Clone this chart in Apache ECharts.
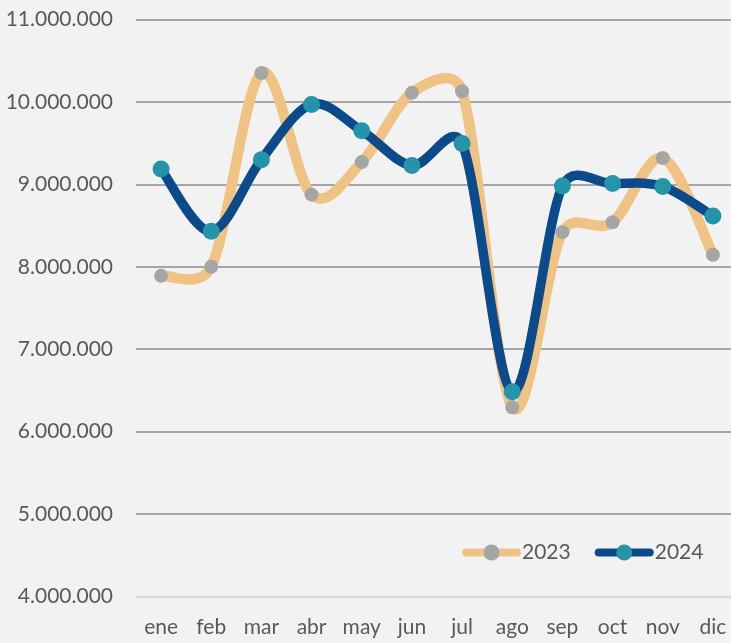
<!DOCTYPE html>
<html>
<head>
<meta charset="utf-8">
<script src="https://cdn.jsdelivr.net/npm/echarts@6/dist/echarts.min.js"></script>
<style>
  html, body { margin: 0; padding: 0; background: #F2F2F2; overflow: hidden; }
  #chart { width: 738px; height: 643px; }
</style>
</head>
<body>
<div id="chart"></div>
<script>
// Monthly totals for two years
const months = ['ene', 'feb', 'mar', 'abr', 'may', 'jun', 'jul', 'ago', 'sep', 'oct', 'nov', 'dic'];
const values2023 = [7890000, 8000000, 10350000, 8875000, 9270000, 10110000, 10130000, 6295000, 8420000, 8540000, 9320000, 8145000];
const values2024 = [9185000, 8430000, 9300000, 9970000, 9650000, 9230000, 9495000, 6485000, 8980000, 9010000, 8975000, 8615000];
const seriesNames = ['2023', '2024'];

const textColor = '#595959';
const fontFamily = 'Lato, "Open Sans", sans-serif';

const colors2023 = { line: '#EEC385', marker: '#A5A5A5' };
const colors2024 = { line: '#0D4A8A', marker: '#2594A8' };

// Thousands separated with dots
function fmt(v) {
  return String(Math.round(v)).replace(/\B(?=(\d{3})+(?!\d))/g, '.');
}

function dist(a, b) {
  return Math.hypot(b[0] - a[0], b[1] - a[1]);
}

// Smoothed segment i -> i+1: cubic Bezier whose handles follow the
// neighbouring points (1/6 tension), limited to half the segment length.
function smoothSegment(values, lineColor, lineWidth) {
  return function (params, api) {
    const i = params.dataIndex;
    const n = values.length;
    if (i >= n - 1) return null;
    const clampIdx = k => Math.min(Math.max(k, 0), n - 1);
    const pt = k => api.coord([clampIdx(k), values[clampIdx(k)]]);
    const p0 = pt(i - 1), p1 = pt(i), p2 = pt(i + 1), p3 = pt(i + 2);
    const d12 = dist(p1, p2);
    const d02 = dist(p0, p2);
    const d13 = dist(p1, p3);
    let f1 = 1 / 6, f2 = 1 / 6;
    if (d02 / 6 >= d12 / 2 && d02 > 0) f1 = d12 / 2 / d02;
    if (d13 / 6 >= d12 / 2 && d13 > 0) f2 = d12 / 2 / d13;
    return {
      type: 'bezierCurve',
      shape: {
        x1: p1[0], y1: p1[1],
        x2: p2[0], y2: p2[1],
        cpx1: p1[0] + f1 * (p2[0] - p0[0]),
        cpy1: p1[1] + f1 * (p2[1] - p0[1]),
        cpx2: p2[0] - f2 * (p3[0] - p1[0]),
        cpy2: p2[1] - f2 * (p3[1] - p1[1])
      },
      style: { stroke: lineColor, lineWidth: lineWidth, fill: null, lineCap: 'round', lineJoin: 'round' },
      silent: true
    };
  };
}

const chart = echarts.init(document.getElementById('chart'), null, { renderer: 'canvas' });

chart.setOption({
  backgroundColor: '#F2F2F2',
  animation: false,
  grid: { left: 136, top: 19.5, right: 0, height: 577, containLabel: false },
  legend: {
    left: 462,
    top: 542,
    padding: 0,
    itemWidth: 51,
    itemHeight: 20,
    itemGap: 24,
    textStyle: { color: textColor, fontSize: 21, fontFamily: fontFamily },
    data: [
      { name: seriesNames[0], lineStyle: { color: colors2023.line, width: 8, opacity: 1, cap: 'round' } },
      { name: seriesNames[1], lineStyle: { color: colors2024.line, width: 8, opacity: 1, cap: 'round' } }
    ]
  },
  xAxis: {
    type: 'category',
    data: months,
    boundaryGap: true,
    axisLine: { show: true, lineStyle: { color: '#D9D9D9', width: 2 } },
    axisTick: { show: false },
    axisLabel: { color: textColor, fontSize: 21, fontFamily: fontFamily, margin: 20, interval: 0 }
  },
  yAxis: {
    type: 'value',
    min: 4000000,
    max: 11000000,
    interval: 1000000,
    axisLine: { show: false },
    axisTick: { show: false },
    axisLabel: { color: textColor, fontSize: 21, fontFamily: fontFamily, margin: 23, formatter: fmt },
    splitLine: {
      show: true,
      lineStyle: {
        color: ['#D9D9D9', '#A6A6A6', '#A6A6A6', '#A6A6A6', '#A6A6A6', '#A6A6A6', '#A6A6A6', '#A6A6A6'],
        width: 2
      }
    }
  },
  series: [
    {
      name: 'curve2023',
      type: 'custom',
      data: values2023.map((v, i) => [i, v]),
      renderItem: smoothSegment(values2023, colors2023.line, 10.5),
      z: 2
    },
    {
      name: seriesNames[0],
      type: 'line',
      data: values2023,
      symbol: 'circle',
      symbolSize: 14,
      showAllSymbol: true,
      lineStyle: { color: colors2023.line, width: 0, opacity: 0 },
      itemStyle: { color: colors2023.marker, borderWidth: 0 },
      z: 3
    },
    {
      name: 'curve2024',
      type: 'custom',
      data: values2024.map((v, i) => [i, v]),
      renderItem: smoothSegment(values2024, colors2024.line, 9.5),
      z: 4
    },
    {
      name: seriesNames[1],
      type: 'line',
      data: values2024,
      symbol: 'circle',
      symbolSize: 17,
      showAllSymbol: true,
      lineStyle: { color: colors2024.line, width: 0, opacity: 0 },
      itemStyle: { color: colors2024.marker, borderWidth: 0 },
      z: 5
    }
  ]
});
</script>
</body>
</html>
